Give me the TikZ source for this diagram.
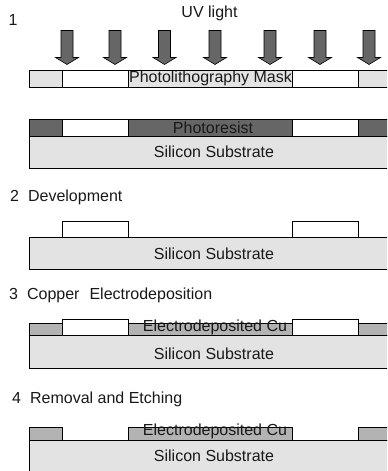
\documentclass[tikz,border=0pt]{standalone}
\usepackage{fontspec}
\setmainfont{Liberation Sans}
\definecolor{silicon}{HTML}{E3E3E3}
\definecolor{resist}{HTML}{666666}
\definecolor{copper}{HTML}{B3B3B3}
\tikzset{
  layer/.style={draw=black,line width=0.8bp},
  lbl/.style={inner sep=0pt,font=\fontsize{16bp}{18bp}\selectfont,text=black!90},
  uvarrow/.style={draw=black,line width=0.6bp,fill=resist}
}
\newcommand{\siliconbar}[2]{\fill[silicon] (29.5,#1) rectangle (388,#2);
  \draw[layer] (388,#1) -- (29.5,#1) -- (29.5,#2) -- (388,#2);}
\newcommand{\uvdown}[1]{\draw[uvarrow] (#1-6,30.5) -- (#1+6,30.5) -- (#1+6,57.5) -- (#1+11.5,57.5) -- (#1,64.5) -- (#1-11.5,57.5) -- (#1-6,57.5) -- cycle;}
\begin{document}
\begin{tikzpicture}[x=1bp,y=-1bp]
\useasboundingbox (0,0) rectangle (387,471);
\clip (0,0) rectangle (387,471);
% step 1
\foreach \a in {67,115,164.5,215,270,320,369} {\uvdown{\a}}
\fill[silicon] (29.5,70.5) rectangle (388,87);
\draw[layer] (388,70.5) -- (29.5,70.5) -- (29.5,87) -- (388,87);
\draw[layer,fill=white] (62.5,70.5) rectangle (128.5,87);
\draw[layer,fill=white] (292.5,70.5) rectangle (358.5,87);
\fill[resist] (29.5,119.5) rectangle (388,136);
\draw[layer] (388,119.5) -- (29.5,119.5) -- (29.5,136) -- (388,136);
\draw[layer,fill=white] (62.5,119.5) rectangle (128.5,136);
\draw[layer,fill=white] (292.5,119.5) rectangle (358.5,136);
\siliconbar{136}{168.5}
% step 2
\draw[layer,fill=white] (62.5,221) rectangle (128.5,237.5);
\draw[layer,fill=white] (292.5,221) rectangle (358.5,237.5);
\siliconbar{237.5}{269.5}
% step 3
\fill[copper] (29.5,323) rectangle (388,335.5);
\draw[layer] (388,323) -- (29.5,323) -- (29.5,335.5) -- (388,335.5);
\draw[layer,fill=white] (62.5,319) rectangle (128.5,335.5);
\draw[layer,fill=white] (292.5,319) rectangle (358.5,335.5);
\siliconbar{335.5}{368}
% step 4
\draw[layer,fill=copper] (29.5,427.5) rectangle (62.5,440);
\draw[layer,fill=copper] (128.5,427.5) rectangle (292.5,440);
\draw[layer,fill=copper] (358.5,427.5) rectangle (388,440);
\siliconbar{440}{472}
% texts
\node[lbl] (one) at (13,20) {1};
\node[lbl] (uv) at (209.5,13.5) {UV light};
\node[lbl] (mask) at (210.5,78) {Photolithography Mask};
\node[lbl] (pr) at (213,128) {Photoresist};
\node[lbl] (si1) at (214,152) {Silicon Substrate};
\node[lbl,anchor=west] (dev) at (10,197) {2\hspace{9bp}Development};
\node[lbl] (si2) at (214,253.5) {Silicon Substrate};
\node[lbl,anchor=west] (cu) at (9,295) {3\hspace{9bp}Copper\hspace{10bp}Electrodeposition};
\node[lbl] (cu1) at (215,327.5) {Electrodeposited Cu};
\node[lbl] (si3) at (214,354) {Silicon Substrate};
\node[lbl,anchor=west] (rem) at (12,399) {4\hspace{9bp}Removal and Etching};
\node[lbl] (cu2) at (215,431.5) {Electrodeposited Cu};
\node[lbl] (si4) at (214,456) {Silicon Substrate};
\end{tikzpicture}
\end{document}
